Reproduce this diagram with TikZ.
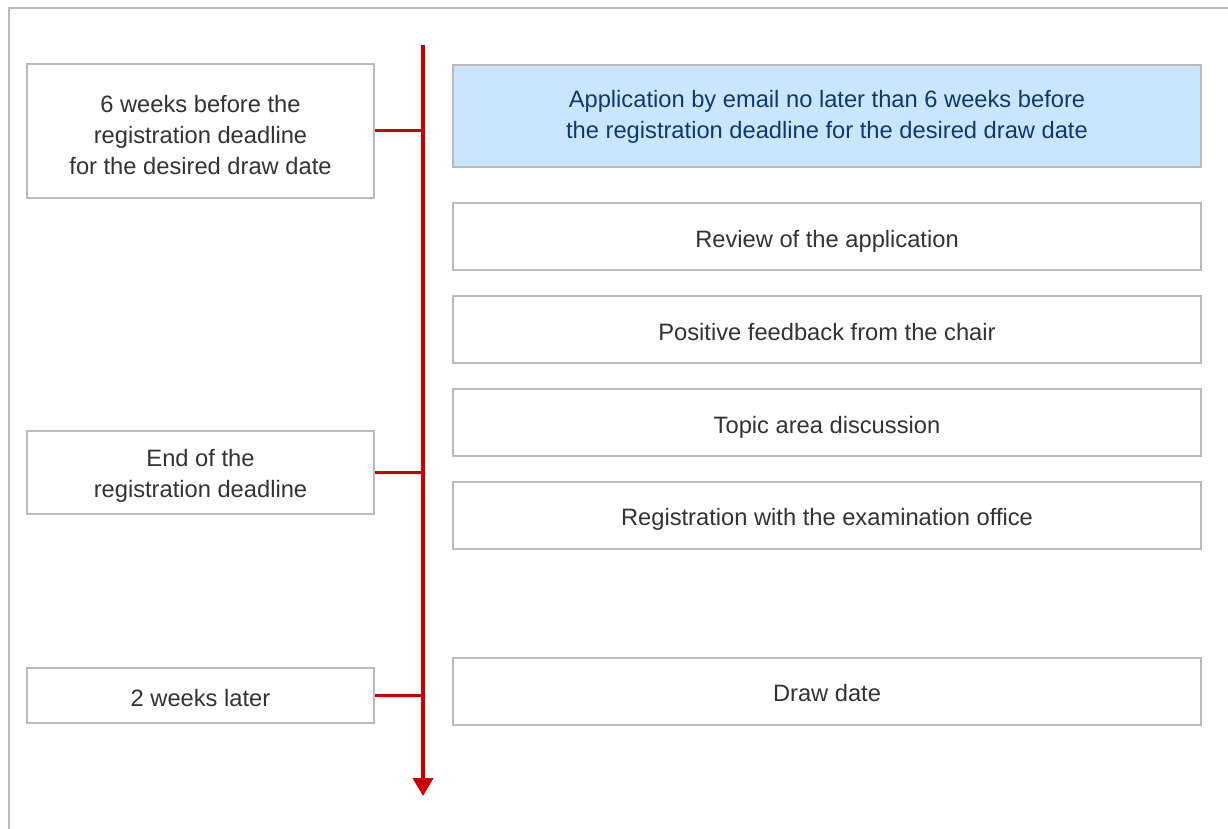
\documentclass[tikz,border=0pt]{standalone}
\usepackage{fontspec}
\setmainfont{Liberation Sans}
\usetikzlibrary{arrows.meta}
\definecolor{boxgray}{HTML}{BBBBBB}
\definecolor{txtgray}{HTML}{333333}
\definecolor{tlred}{HTML}{CC0000}
\definecolor{hlblue}{HTML}{CCE5FF}
\definecolor{hltext}{HTML}{0B3A6E}
\newcommand{\stacklines}[1]{\begin{tabular}[t]{@{}c@{}}#1\end{tabular}}
\begin{document}
\begin{tikzpicture}[x=1pt,y=-1pt,
  every node/.style={font=\fontsize{23.7}{31}\selectfont, text=txtgray},
  stagebox/.style={draw=boxgray, line width=2pt, fill=white, inner sep=0pt},
  leftbox/.style={stagebox, minimum width=347pt},
  rightbox/.style={stagebox, minimum width=748pt, minimum height=67pt},
  hlbox/.style={stagebox, minimum width=748pt, fill=hlblue},
  lbl/.style={anchor=base, inner sep=0pt},
  hllbl/.style={lbl, text=hltext},
  tick/.style={draw=tlred, line width=3pt},
  timeline/.style={draw=tlred, line width=4pt, -{Triangle[length=18pt,width=20pt]}}
]
\useasboundingbox (0,0) rectangle (1228,829);
\draw[boxgray, line width=2pt] (1240,8) -- (9,8) -- (9,840);
% timeline
\coordinate (top) at (423,45);
\coordinate (bot) at (423,796);
\draw[timeline] (top) -- (bot);
% left boxes
\node[leftbox, minimum height=134pt] (l1) at (200.5,131.5) {};
\node[lbl] (l1t) at (200.5,112.3) {\stacklines{6 weeks before the\\registration deadline\\for the desired draw date}};
\node[leftbox, minimum height=83pt] (l2) at (200.5,472.5) {};
\node[lbl] (l2t) at (200.5,466.8) {\stacklines{End of the\\registration deadline}};
\node[leftbox, minimum height=55pt] (l3) at (200.5,695.5) {};
\node[lbl] (l3t) at (200.5,706) {2 weeks later};
% ticks
\coordinate (j1) at (423,131);
\coordinate (j2) at (423,472);
\coordinate (j3) at (423,695);
\draw[tick] (l1.east |- j1) -- (j1);
\draw[tick] (l2.east |- j2) -- (j2);
\draw[tick] (l3.east |- j3) -- (j3);
% right boxes
\node[hlbox, minimum height=102pt] (r1) at (827,116) {};
\node[hllbl] (r1t) at (827,108) {\stacklines{Application by email no later than 6 weeks before\\the registration deadline for the desired draw date}};
\node[rightbox] (r2) at (827,236.5) {};
\node[lbl] (r2t) at (827,247.2) {Review of the application};
\node[rightbox] (r3) at (827,329.5) {};
\node[lbl] (r3t) at (827,340) {Positive feedback from the chair};
\node[rightbox] (r4) at (827,422.5) {};
\node[lbl] (r4t) at (827,433.2) {Topic area discussion};
\node[rightbox] (r5) at (827,515.5) {};
\node[lbl] (r5t) at (827,525.5) {Registration with the examination office};
\node[rightbox] (r6) at (827,691.5) {};
\node[lbl] (r6t) at (827,701.8) {Draw date};
\end{tikzpicture}
\end{document}
